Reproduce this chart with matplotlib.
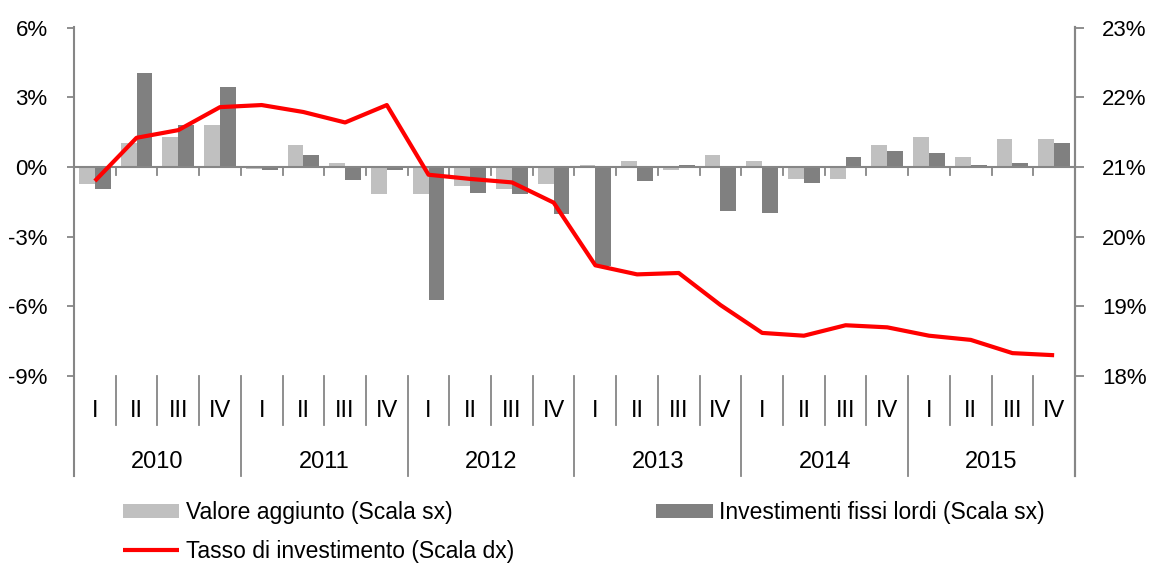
import matplotlib
matplotlib.use("Agg")
import matplotlib.pyplot as plt
from matplotlib import font_manager
import numpy as np

# ---- data ----
years = ["2010", "2011", "2012", "2013", "2014", "2015"]
quarters = ["I", "II", "III", "IV"]
valore_aggiunto = [-0.75, 1.03, 1.29, 1.81,
                   -0.10, 0.95, 0.17, -1.18,
                   -1.18, -0.83, -0.93, -0.75,
                   0.09, 0.26, -0.14, 0.50,
                   0.26, -0.50, -0.50, 0.95,
                   1.29, 0.43, 1.20, 1.20]
investimenti = [-0.93, 4.05, 1.81, 3.44,
                -0.12, 0.52, -0.57, -0.12,
                -5.74, -1.10, -1.18, -2.04,
                -4.25, -0.59, 0.10, -1.88,
                -1.97, -0.67, 0.43, 0.69,
                0.60, 0.09, 0.17, 1.03]
tasso = [20.80, 21.42, 21.53, 21.86,
         21.89, 21.79, 21.64, 21.89,
         20.89, 20.83, 20.78, 20.49,
         19.59, 19.46, 19.48, 19.02,
         18.62, 18.58, 18.73, 18.70,
         18.58, 18.52, 18.33, 18.30]
left_ticks = [-9, -6, -3, 0, 3, 6]
right_ticks = [18, 19, 20, 21, 22, 23]

# ---- fonts ----
avail = {f.name for f in font_manager.fontManager.ttflist}
fam = [f for f in ["Liberation Sans Narrow", "Liberation Sans", "DejaVu Sans"] if f in avail]
plt.rcParams["font.family"] = fam

GRAY = "#868686"
LIGHT = "#C0C0C0"
DARK = "#808080"
RED = "#FF0000"

fig = plt.figure(figsize=(11.52, 5.63), dpi=100)
ax = fig.add_axes([74/1152, 1 - 476/563, (1075-74)/1152, (476-27)/563])

n = len(valore_aggiunto)
x = np.arange(n)
ymin, ymax = -13.3, 6.03
ax.set_xlim(-0.5, n - 0.5)
ax.set_ylim(ymin, ymax)

b1 = ax.bar(x - 0.19, valore_aggiunto, width=0.38, color=LIGHT, zorder=2,
            label="Valore aggiunto (Scala sx)")
b2 = ax.bar(x + 0.19, investimenti, width=0.38, color=DARK, zorder=2,
            label="Investimenti fissi lordi (Scala sx)")
ax.axhline(0, color=GRAY, lw=1.5, zorder=3)

# zero-line ticks at quarter boundaries
for k in range(n + 1):
    ax.plot([k - 0.5, k - 0.5], [0, -0.33], color=GRAY, lw=1.3, zorder=3, clip_on=False)

ax.set_xticks([])
ax.set_yticks(left_ticks)
ax.set_yticklabels([f"{t}%" for t in left_ticks])
ax.tick_params(axis="y", direction="out", length=5, width=1.3, color=GRAY,
               labelsize=16, pad=14)
for s in ["top", "bottom"]:
    ax.spines[s].set_visible(False)
for s in ["left", "right"]:
    ax.spines[s].set_color(GRAY)
    ax.spines[s].set_linewidth(1.5)

# category labels and separators
y_sep_top = -9.0
y_q_bottom = -11.12
y_q_label = -10.5
y_y_label = -12.7
for i in range(n):
    ax.text(x[i], y_q_label, quarters[i % 4], ha="center", va="center", fontsize=17)
    if i % 4 != 0:
        ax.plot([i - 0.5, i - 0.5], [y_sep_top, y_q_bottom], color=GRAY, lw=1.3, clip_on=False)
    elif i != 0:
        ax.plot([i - 0.5, i - 0.5], [y_sep_top, ymin], color=GRAY, lw=1.3, clip_on=False)
for j, yr in enumerate(years):
    ax.text(4 * j + 1.5, y_y_label, yr, ha="center", va="center", fontsize=17)

ax2 = ax.twinx()
ax2.set_ylim(21 + ymin / 3, 21 + ymax / 3)
l1, = ax2.plot(x, tasso, color=RED, lw=3.0, zorder=4, solid_capstyle="butt",
               label="Tasso di investimento (Scala dx)")
ax2.set_yticks(right_ticks)
ax2.set_yticklabels([f"{t}%" for t in right_ticks])
ax2.tick_params(axis="y", direction="out", length=6.5, width=1.3, color=GRAY,
                labelsize=16, pad=13)
for s in ["top", "bottom", "left"]:
    ax2.spines[s].set_visible(False)
ax2.spines["right"].set_color(GRAY)
ax2.spines["right"].set_linewidth(1.5)

leg = fig.legend([b1, l1, b2],
                 ["Valore aggiunto (Scala sx)", "Tasso di investimento (Scala dx)",
                  "Investimenti fissi lordi (Scala sx)"],
                 ncol=2, loc="upper left", bbox_to_anchor=(123/1152, 1 - 501/563),
                 frameon=False, fontsize=16.5, borderpad=0, borderaxespad=0,
                 handlelength=2.45, handleheight=0.6, handletextpad=0.3,
                 columnspacing=6.2, labelspacing=0.7)

fig.savefig("out.png", dpi=100)
